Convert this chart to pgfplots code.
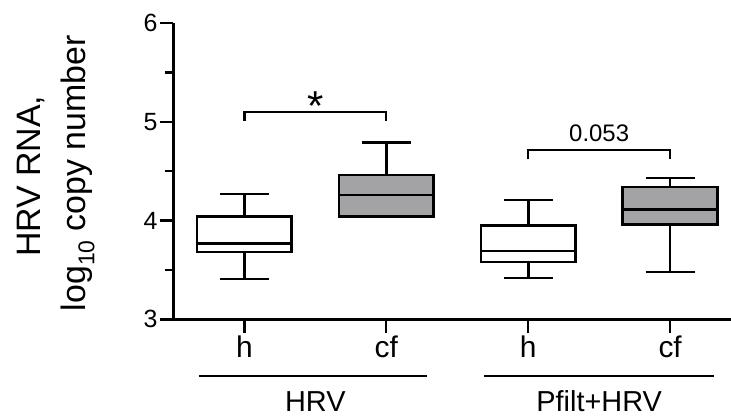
\documentclass[border=0pt]{standalone}
\usepackage{fontspec}
\setmainfont{Liberation Sans}
\usepackage{pgfplots}
\pgfplotsset{compat=1.18}
\usepgfplotslibrary{statistics}
\definecolor{boxgray}{RGB}{163,163,166}

\begin{document}
\begin{tikzpicture}
\begin{axis}[
    scale only axis,
    width=557.7bp, height=296.1bp,
    xmin=0.5, xmax=4.43, ymin=3, ymax=6,
    axis x line=bottom, axis y line=left,
    axis line style={line width=2.4bp, -},
    xtick={1,2,3,4}, xticklabels={h,cf,h,cf},
    ytick={3,4,5,6}, minor ytick={3.5,4.5,5.5},
    tick align=outside,
    major tick length=13.5bp, minor tick length=8.5bp,
    tick style={line width=2.4bp, black},
    /pgf/number format/assume math mode=true,
    yticklabel style={font=\fontsize{25}{25}\selectfont, xshift=1bp},
    xticklabel style={font=\fontsize{30}{30}\selectfont},
    clip=false,
    boxplot/draw direction=y,
    boxplot/box extend=0.667,
    boxplot/whisker extend=0.345,
]
% HRV, h
\addplot[boxplot prepared={draw position=1, median=3.77,
    upper quartile=4.04, lower quartile=3.68,
    upper whisker=4.27, lower whisker=3.41},
    draw=black, fill=white, line width=2.6bp] coordinates {};
% HRV, cf
\addplot[boxplot prepared={draw position=2, median=4.26,
    upper quartile=4.46, lower quartile=4.04,
    upper whisker=4.79, lower whisker=4.04},
    draw=black, fill=boxgray, line width=2.6bp] coordinates {};
% Pfilt+HRV, h
\addplot[boxplot prepared={draw position=3, median=3.69,
    upper quartile=3.95, lower quartile=3.58,
    upper whisker=4.21, lower whisker=3.42},
    draw=black, fill=white, line width=2.6bp] coordinates {};
% Pfilt+HRV, cf
\addplot[boxplot prepared={draw position=4, median=4.11,
    upper quartile=4.34, lower quartile=3.96,
    upper whisker=4.43, lower whisker=3.48},
    draw=black, fill=boxgray, line width=2.6bp] coordinates {};

% significance brackets
\draw[line width=2.4bp] (axis cs:1,5.01) -- (axis cs:1,5.10) -- (axis cs:2,5.10) -- (axis cs:2,5.01);
\node[anchor=base, inner sep=0pt, font=\fontsize{42}{42}\selectfont] at (axis cs:1.5,5.01) {*};
\draw[line width=2.4bp] (axis cs:3,4.62) -- (axis cs:3,4.715) -- (axis cs:4,4.715) -- (axis cs:4,4.62);
\node[anchor=base, inner sep=0pt, font=\fontsize{24}{24}\selectfont] at (axis cs:3.5,4.80) {0.053};

% group lines and labels
\draw[line width=2.4bp] (axis cs:0.68,2.426) -- (axis cs:2.285,2.426);
\draw[line width=2.4bp] (axis cs:2.69,2.426) -- (axis cs:4.31,2.426);
\node[anchor=base, inner sep=0pt, font=\fontsize{29}{29}\selectfont] at (axis cs:1.5,2.064) {HRV};
\node[anchor=base, inner sep=0pt, font=\fontsize{29}{29}\selectfont] at (axis cs:3.5,2.064) {Pfilt+HRV};

% y label
\node[rotate=90, anchor=base, inner sep=0pt, font=\fontsize{34}{34}\selectfont] at (axis cs:-0.435,4.45) {HRV RNA,};
\node[rotate=90, anchor=base, inner sep=0pt, font=\fontsize{34}{34}\selectfont] at (axis cs:-0.123,4.48)
    {log\raisebox{-0.28em}{\fontsize{23}{23}\selectfont 10} copy number};

\coordinate (bl) at (axis cs:-0.722,2.010);
\coordinate (tr) at (axis cs:4.429,6.235);
\end{axis}
\pgfresetboundingbox
\path (bl) rectangle (tr);
\end{tikzpicture}
\end{document}
